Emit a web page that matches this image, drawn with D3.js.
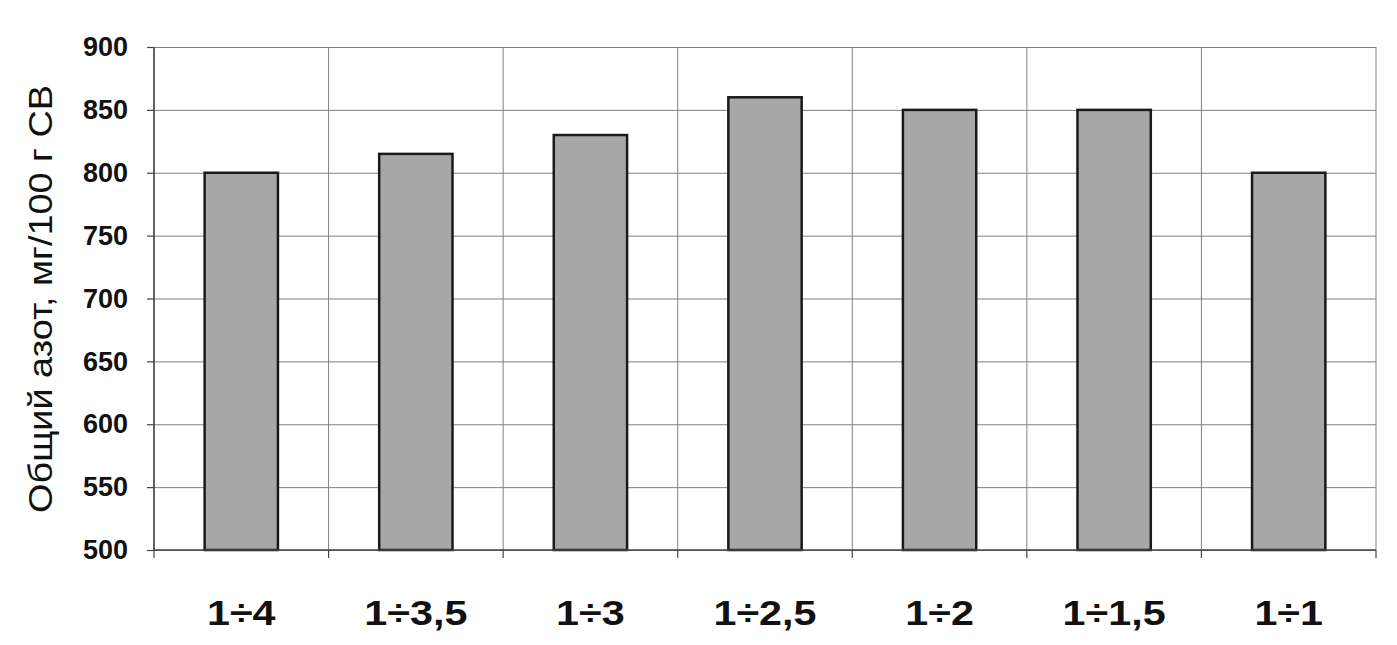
<!DOCTYPE html>
<html>
<head>
<meta charset="utf-8">
<script src="https://cdn.jsdelivr.net/npm/d3@7"></script>
<style>
  body { margin: 0; background: #fff; }
  svg text { font-family: "Liberation Sans", Arial, sans-serif; fill: #111; }
  .grid line { stroke: #808080; stroke-width: 1; }
  .grid path { display: none; }
</style>
</head>
<body>
<div id="chart"></div>
<script>
const categories = ["1÷4", "1÷3,5", "1÷3", "1÷2,5", "1÷2", "1÷1,5", "1÷1"];
const values = [800, 815, 830, 860, 850, 850, 800];
const yTicks = [500, 550, 600, 650, 700, 750, 800, 850, 900];

const WIDTH = 1397, HEIGHT = 645;
const M = { top: 47, right: 21, bottom: 95, left: 154 };
const innerW = WIDTH - M.left - M.right;
const innerH = HEIGHT - M.top - M.bottom;

const svg = d3.select("#chart").append("svg")
  .attr("width", WIDTH).attr("height", HEIGHT);
const g = svg.append("g").attr("transform", `translate(${M.left},${M.top})`);

const x = d3.scaleBand().domain(categories).range([0, innerW]).paddingInner(0.58).paddingOuter(0.29);
const y = d3.scaleLinear().domain([500, 900]).range([innerH, 0]);

// category boundaries for vertical grid
const step = innerW / categories.length;
const bounds = d3.range(categories.length + 1).map(i => i * step);

g.append("g").attr("class", "grid")
  .call(d3.axisLeft(y).tickValues(yTicks).tickSize(-innerW).tickFormat(""));
g.selectAll(".vgrid").data(bounds).join("line")
  .attr("class", "vgrid")
  .attr("x1", d => d).attr("x2", d => d)
  .attr("y1", 0).attr("y2", innerH)
  .attr("stroke", "#808080").attr("stroke-width", 1);

// bars
g.selectAll(".bar").data(values).join("rect")
  .attr("class", "bar")
  .attr("x", (d, i) => x(categories[i]))
  .attr("y", d => y(d))
  .attr("width", x.bandwidth())
  .attr("height", d => innerH - y(d))
  .attr("fill", "#a7a7a7")
  .attr("stroke", "#1a1a1a").attr("stroke-width", 2.5);

// axes lines
g.append("line").attr("x1", 0).attr("x2", 0).attr("y1", 0).attr("y2", innerH)
  .attr("stroke", "#444").attr("stroke-width", 1.5);
g.append("line").attr("x1", 0).attr("x2", innerW).attr("y1", innerH).attr("y2", innerH)
  .attr("stroke", "#444").attr("stroke-width", 1.5);

// y ticks + labels
const yAxis = g.append("g")
  .call(d3.axisLeft(y).tickValues(yTicks).tickSize(7).tickPadding(19));
yAxis.select(".domain").remove();
yAxis.selectAll("line").attr("stroke", "#444").attr("stroke-width", 1.2);
yAxis.selectAll("text")
  .style("font-size", "27px").style("font-weight", "bold").attr("fill", "#111");

// bottom ticks at boundaries
g.selectAll(".xtick").data(bounds).join("line")
  .attr("class", "xtick")
  .attr("x1", d => d).attr("x2", d => d)
  .attr("y1", innerH).attr("y2", innerH + 8)
  .attr("stroke", "#444").attr("stroke-width", 1.2);

// category labels (slightly wide, like the scanned original)
g.selectAll(".xlab").data(categories).join("text")
  .attr("class", "xlab")
  .attr("x", d => x(d) + x.bandwidth() / 2)
  .attr("y", innerH + 75)
  .attr("text-anchor", "middle")
  .style("font-size", "35px").style("font-weight", "bold")
  .text(d => d)
  .each(function() {
    const len = this.getComputedTextLength();
    d3.select(this).attr("textLength", len * 1.18).attr("lengthAdjust", "spacingAndGlyphs");
  });

// y title
svg.append("text")
  .attr("transform", `translate(52, 299) rotate(-90)`)
  .attr("text-anchor", "middle")
  .attr("textLength", 428).attr("lengthAdjust", "spacingAndGlyphs")
  .style("font-size", "33px")
  .text("Общий азот, мг/100 г СВ");
</script>
</body>
</html>
